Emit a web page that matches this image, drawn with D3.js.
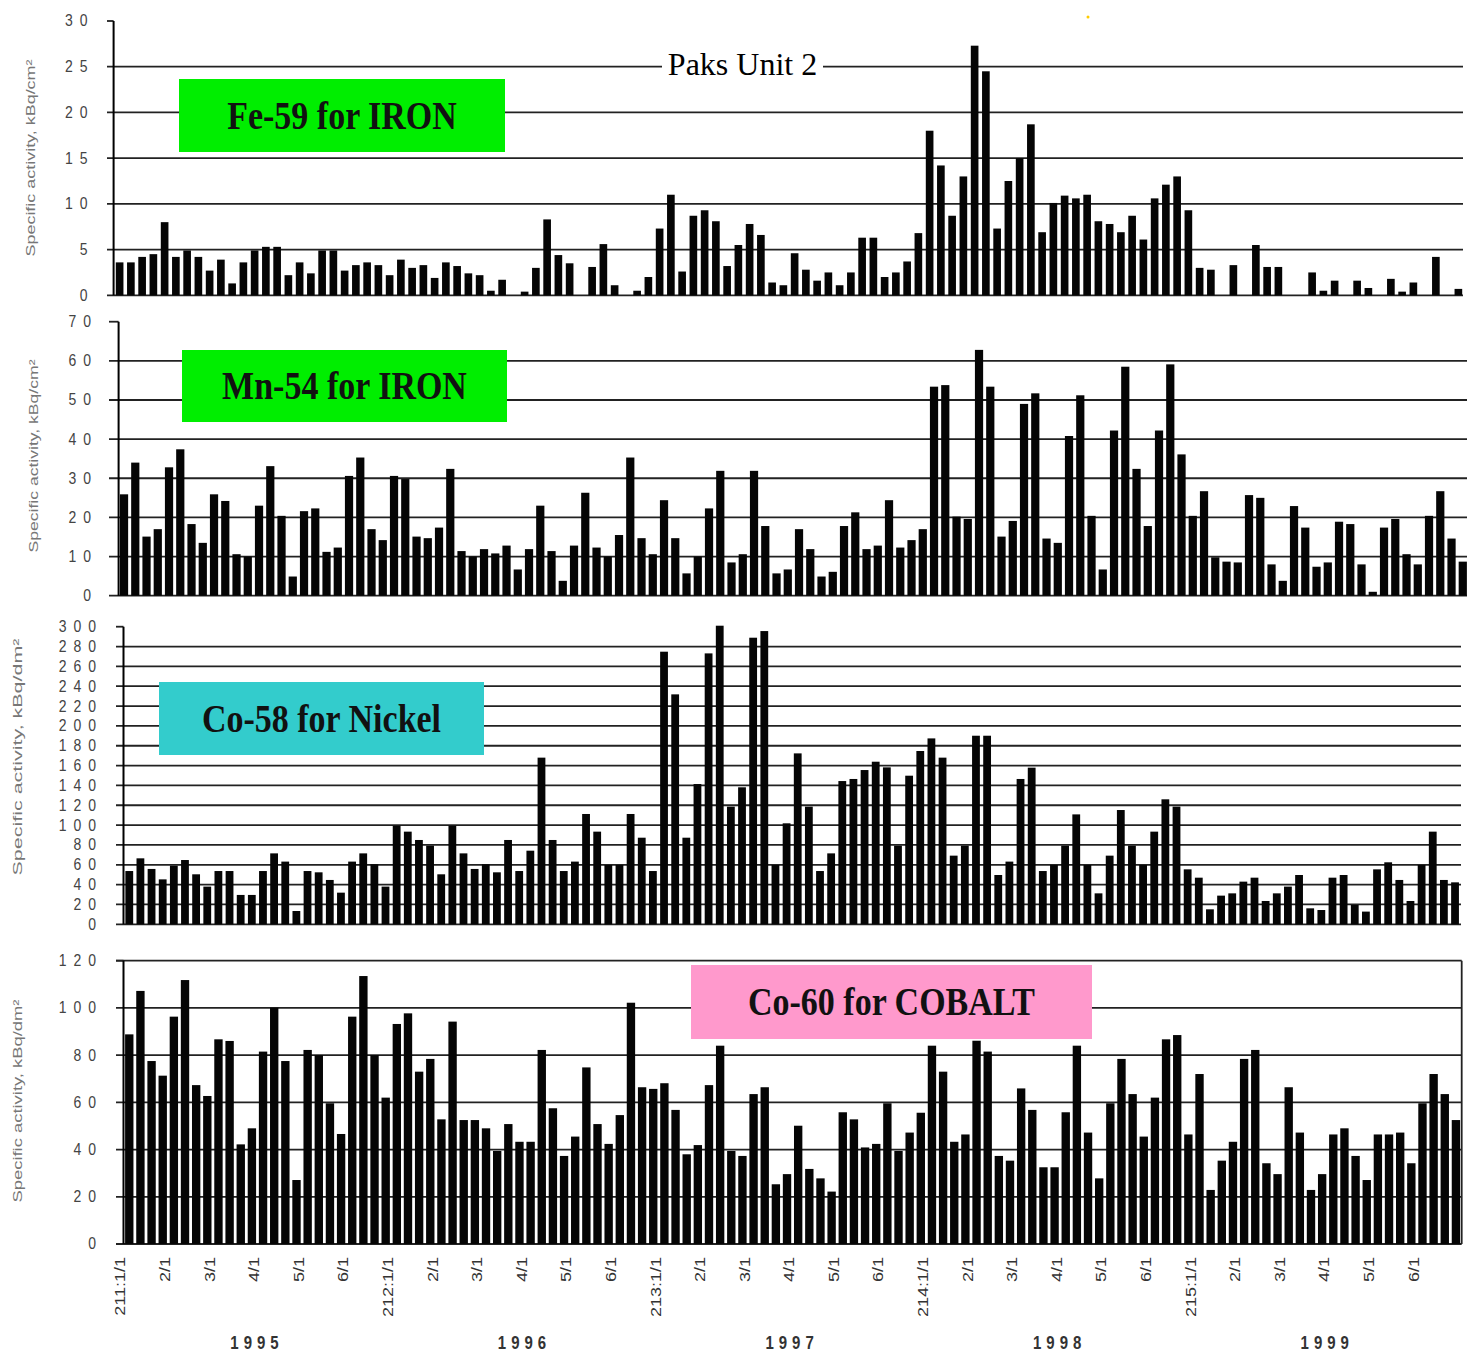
<!DOCTYPE html>
<html><head><meta charset="utf-8">
<script src="https://cdn.jsdelivr.net/npm/d3@7"></script>
<style>body{margin:0;background:#fff;} svg{display:block;}</style>
</head><body>
<svg id="chart" width="1467" height="1354"></svg>
<script>
// ---------------- DATA ----------------
const fe59 = [3.6,3.6,4.2,4.5,8.0,4.2,4.9,4.2,2.7,3.9,
  1.3,3.6,4.9,5.3,5.3,2.2,3.6,2.4,4.9,4.9,
  2.7,3.3,3.6,3.3,2.2,3.9,3.0,3.3,1.9,3.6,
  3.2,2.4,2.2,0.5,1.7,0,0.4,3.0,8.3,4.4,
  3.5,0,3.1,5.6,1.1,0,0.5,2.0,7.3,11.0,
  2.6,8.7,9.3,8.1,3.2,5.5,7.8,6.6,1.4,1.1,
  4.6,2.8,1.6,2.5,1.1,2.5,6.3,6.3,2.0,2.5,
  3.7,6.8,18.0,14.2,8.7,13.0,27.3,24.5,7.3,12.5,
  15.0,18.7,6.9,10.1,10.9,10.6,11.0,8.1,7.8,6.9,
  8.7,6.1,10.6,12.1,13.0,9.3,3.0,2.8,0,3.3,
  0,5.5,3.1,3.1,0,0,2.5,0.5,1.6,0,
  1.6,0.8,0,1.8,0.4,1.4,0,4.2,0,0.7];
const mn54 = [25.9,34.0,15.1,17.0,32.8,37.4,18.3,13.5,25.9,24.2,
  10.6,10.0,23.0,33.1,20.4,4.9,21.6,22.3,11.2,12.3,
  30.6,35.3,17.0,14.2,30.6,29.8,15.1,14.7,17.4,32.4,
  11.4,10.0,11.9,10.8,12.8,6.7,11.9,23.0,11.4,3.8,
  12.8,26.3,12.3,10.0,15.5,35.3,14.7,10.6,24.4,14.7,
  5.7,10.0,22.3,31.9,8.5,10.6,31.9,17.8,5.7,6.7,
  17.0,11.9,4.9,6.1,17.8,21.3,11.9,12.8,24.4,12.3,
  14.2,17.0,53.4,53.8,20.2,19.6,62.8,53.4,15.1,19.1,
  49.0,51.7,14.6,13.5,40.8,51.2,20.4,6.7,42.2,58.5,
  32.4,17.8,42.2,59.1,36.1,20.4,26.7,9.8,8.7,8.5,
  25.7,25.0,8.0,3.8,22.9,17.4,7.4,8.5,18.9,18.3,
  8.0,1.0,17.4,19.6,10.6,8.0,20.4,26.7,14.6,8.7];
const co58 = [53.7,66.5,55.8,45.3,59.1,64.8,50.4,38.0,53.7,53.7,
  29.6,29.6,53.7,71.5,63.2,13.4,53.7,52.4,44.7,31.9,
  63.2,71.5,60.5,38.0,99.4,93.4,85.0,79.3,50.4,99.4,
  71.5,55.8,60.5,52.4,85.0,53.7,74.2,168.0,85.0,53.7,
  63.2,111.2,93.4,59.8,59.8,111.2,87.3,53.7,274.8,231.8,
  87.3,141.4,273.1,301,118.6,138.1,288.9,295.6,59.8,101.8,
  172.3,118.6,53.7,71.5,144.4,146.5,155.5,163.9,158.2,79.3,
  149.8,174.7,187.4,168.0,69.2,79.3,190.1,190.1,49.7,63.2,
  146.5,157.9,53.7,59.8,79.3,110.8,59.8,31.2,69.2,115.2,
  79.3,59.8,93.4,126.0,118.6,55.4,47.0,15.1,28.9,31.2,
  43.0,47.0,23.5,31.2,38.0,49.7,16.1,14.4,47.0,49.7,
  19.5,12.8,55.4,62.5,44.7,23.5,59.8,93.4,44.7,42.3];
const co60 = [88.8,107.2,77.5,71.3,96.3,111.8,67.3,62.7,86.7,86.0,
  42.2,49.0,81.5,100.1,77.5,27.1,82.2,80.0,59.6,46.6,
  96.3,113.5,80.0,62.0,93.2,97.7,73.0,78.4,52.8,94.2,
  52.5,52.5,49.0,39.4,50.8,43.3,43.3,82.2,57.5,37.3,
  45.5,74.8,50.8,42.4,54.6,102.2,66.4,65.7,68.1,56.8,
  38.0,41.9,67.3,84.0,39.4,37.3,63.5,66.4,25.3,29.6,
  50.1,31.8,27.8,22.2,55.8,52.8,40.9,42.4,59.6,39.4,
  47.2,55.6,84.0,73.0,43.3,46.4,86.1,81.5,37.3,35.3,
  65.9,56.8,32.5,32.5,55.8,84.0,47.2,27.8,59.6,78.4,
  63.5,45.5,62.0,86.7,88.5,46.4,72.0,22.9,35.3,43.3,
  78.4,82.2,34.2,29.6,66.4,47.2,22.9,29.6,46.4,49.0,
  37.3,27.1,46.4,46.4,47.2,34.2,59.6,72.0,63.5,52.5];

const seriesNames = ["Fe-59 for IRON","Mn-54 for IRON","Co-58 for Nickel","Co-60 for COBALT"];
const axisTitles = ["Specific activity, kBq/cm²","Specific activity, kBq/cm²",
                    "Specific activity, kBq/dm²","Specific activity, kBq/dm²"];
const yMax = [30, 70, 300, 120];
const yStep = [5, 10, 20, 20];
const cycles = ["211","212","213","214","215"];
const monthLabels = ["1/1","2/1","3/1","4/1","5/1","6/1"];
const tickLabels = cycles.flatMap(c => monthLabels.map((m, j) => j === 0 ? c + ":" + m : m));
const years = ["1995","1996","1997","1998","1999"];
const chartTitle = "Paks Unit 2";
const categories = fe59.map((_, i) => i);
const labelEvery = 4;
const perYear = 24;

// ---------------- LAYOUT ----------------
const layout = [
  {axisX:113.6, r:[114,1464],   y0:295.3, y1:21,    pad:0.32, gL:107, gR:1463,  labR:87.5, frame:false,
   leg:{x:179,y:79,w:326,h:73,fill:"#00ee00"}, tt:{x:30,yc:158,len:197}},
  {axisX:118.6, r:[118.4,1468.4], y0:595.7, y1:321.7, pad:0.27, gL:109, gR:1467, labR:91, frame:false,
   leg:{x:182,y:350,w:325,h:72,fill:"#00ee00"}, tt:{x:33,yc:456,len:193}},
  {axisX:123.5, r:[123.7,1460.6], y0:924.3, y1:626.7, pad:0.30, gL:116, gR:1461, labR:96, frame:false,
   leg:{x:159,y:682,w:325,h:73,fill:"#33cccc"}, tt:{x:17,yc:757,len:237}},
  {axisX:123.5, r:[123.7,1461.5], y0:1244, y1:960.7, pad:0.25, gL:116, gR:1461.7, labR:96, frame:true,
   leg:{x:691,y:965,w:401,h:74,fill:"#ff99cc"}, tt:{x:17,yc:1101,len:203}}
];
const seriesData = [fe59, mn54, co58, co60];

const svg = d3.select("#chart");
let lastX = null;

seriesData.forEach((vals, p) => {
  const L = layout[p];
  const g = svg.append("g");
  const x = d3.scaleBand().domain(categories).range(L.r).paddingInner(L.pad).paddingOuter(L.pad / 2);
  const y = d3.scaleLinear().domain([0, yMax[p]]).range([L.y0, L.y1]);
  const ticks = d3.range(0, yMax[p] + yStep[p] / 2, yStep[p]);

  // gridlines
  g.selectAll("line.grid").data(ticks.filter(t => t < yMax[p] || L.frame)).join("line")
    .attr("x1", L.gL).attr("x2", L.gR).attr("y1", d => y(d)).attr("y2", d => y(d))
    .attr("stroke", "#222").attr("stroke-width", 1.8);
  // top tick
  g.append("line").attr("x1", L.gL).attr("x2", L.axisX).attr("y1", y(yMax[p])).attr("y2", y(yMax[p]))
    .attr("stroke", "#222").attr("stroke-width", 1.8);
  // axis line
  g.append("line").attr("x1", L.axisX).attr("x2", L.axisX).attr("y1", y(0)).attr("y2", y(yMax[p]))
    .attr("stroke", "#000").attr("stroke-width", 2);
  if (L.frame) {
    g.append("line").attr("x1", L.gR).attr("x2", L.gR).attr("y1", y(0)).attr("y2", y(yMax[p]))
      .attr("stroke", "#222").attr("stroke-width", 1.8);
  }
  // bars
  g.selectAll("rect.bar").data(vals.map((v, i) => ({i, v}))).join("rect")
    .attr("x", d => x(d.i)).attr("width", x.bandwidth())
    .attr("y", d => y(d.v)).attr("height", d => y(0) - y(d.v))
    .attr("fill", "#050505");
  // tick labels
  g.selectAll("text.tick").data(ticks).join("text")
    .attr("transform", d => `translate(${L.labR + 7},${y(d)}) scale(1,1.12)`)
    .attr("text-anchor", "end").attr("dy", "0.35em")
    .style("font-family", "Arial, 'Liberation Sans', sans-serif").style("font-size", "14px")
    .style("letter-spacing", "7px").attr("fill", "#444")
    .text(d => String(d));
  // axis title
  g.append("text")
    .attr("transform", `translate(${L.tt.x},${L.tt.yc}) rotate(-90)`)
    .attr("text-anchor", "middle").attr("dy", "0.35em")
    .attr("textLength", L.tt.len).attr("lengthAdjust", "spacingAndGlyphs")
    .style("font-family", "Arial, 'Liberation Sans', sans-serif").style("font-size", "13px")
    .attr("fill", "#777").text(axisTitles[p]);
  // legend box
  g.append("rect").attr("x", L.leg.x).attr("y", L.leg.y).attr("width", L.leg.w).attr("height", L.leg.h)
    .attr("fill", L.leg.fill);
  g.append("text")
    .attr("transform", `translate(${L.leg.x + L.leg.w / 2},${L.leg.y + L.leg.h / 2}) scale(1,1.18)`)
    .attr("text-anchor", "middle").attr("y", 11.3)
    .style("font-family", "'Times New Roman', 'Liberation Serif', serif").style("font-size", "34px")
    .style("font-weight", "bold").attr("fill", "#111").text(seriesNames[p]);
  lastX = {x, L};
});

// x-axis labels on the bottom panel
{
  const {x} = lastX;
  const step = x.step();
  const center = i => x(i) + x.bandwidth() / 2;
  svg.append("g").selectAll("text").data(tickLabels).join("text")
    .attr("transform", (d, k) => `translate(${center(k * labelEvery) - step + 2},1257) rotate(-90) scale(1.2,1)`)
    .attr("text-anchor", "end").attr("dy", "0.35em")
    .style("font-family", "Arial, 'Liberation Sans', sans-serif").style("font-size", "15px")
    .attr("fill", "#333").text(d => d);
  svg.append("g").selectAll("text").data(years).join("text")
    .attr("transform", (d, k) => `translate(${center(k * perYear + perYear / 2) - step / 2 - 3 + 2.5},1343) scale(1,1.2)`)
    .attr("text-anchor", "middle").attr("dy", "0.35em")
    .style("font-family", "Arial, 'Liberation Sans', sans-serif").style("font-size", "15px")
    .style("font-weight", "bold").style("letter-spacing", "5px")
    .attr("fill", "#333").text(d => d);
}

// chart title
svg.append("rect").attr("x", 662).attr("y", 52).attr("width", 161).attr("height", 28).attr("fill", "#fff");
svg.append("text").attr("x", 742.5).attr("y", 75).attr("text-anchor", "middle")
  .style("font-family", "'Times New Roman', 'Liberation Serif', serif").style("font-size", "32px")
  .attr("fill", "#000").text(chartTitle);
svg.append("circle").attr("cx", 1088).attr("cy", 17).attr("r", 1.5).attr("fill", "#ffcc00");
</script>
</body></html>
